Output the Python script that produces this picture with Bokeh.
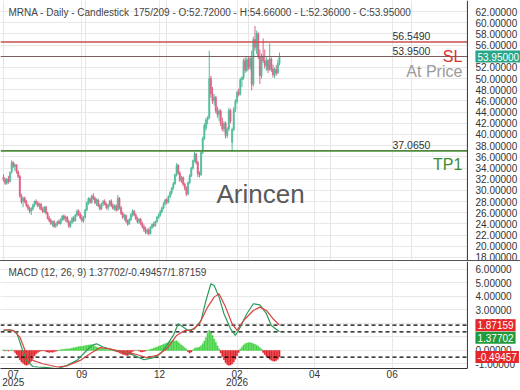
from bokeh.plotting import figure
from bokeh.models import (Range1d, Span, Label, FixedTicker, SingleIntervalTicker,
                          NumeralTickFormatter, ColumnDataSource, Grid, Div, BoxAnnotation)
from bokeh.layouts import column
from bokeh.embed import file_html
from bokeh.resources import INLINE

# ---------------- data ----------------
opens = [32.4, 31.9, 31.3, 32.0, 31.6, 33.3, 35.0, 34.3, 34.5, 33.3,
         32.5, 29.0, 28.0, 28.6, 28.0, 27.3, 26.8, 26.3, 26.7, 27.4,
         28.0, 27.7, 27.2, 27.5, 26.6, 26.2, 27.0, 25.9, 25.0, 24.6,
         24.1, 24.4, 23.6, 24.0, 24.4, 24.1, 24.8, 25.4, 24.9, 25.2,
         24.4, 23.6, 24.3, 25.0, 24.6, 25.6, 26.3, 25.7, 25.1, 24.6,
         25.2, 26.5, 27.8, 28.5, 27.9, 29.0, 28.6, 27.8, 28.3, 27.3,
         26.7, 27.6, 28.0, 27.5, 26.9, 27.4, 28.1, 27.3, 26.8, 27.2,
         26.5, 28.6, 26.9, 25.9, 25.2, 25.5, 24.5, 24.0, 24.8, 25.7,
         26.3, 25.6, 25.0, 24.4, 24.8, 24.1, 23.5, 23.0, 22.5, 22.9,
         22.3, 23.4, 23.9, 23.7, 24.4, 25.2, 25.6, 26.2, 26.9, 27.6,
         28.3, 27.9, 28.9, 29.6, 30.4, 31.2, 32.8, 34.5, 33.1, 31.8,
         32.3, 31.1, 30.4, 29.4, 31.4, 32.6, 34.0, 35.3, 36.5, 35.0,
         33.0, 32.8, 36.8, 39.3, 41.1, 42.6, 43.0, 50.0, 47.3, 46.0,
         46.6, 44.2, 43.6, 44.2, 42.0, 41.0, 42.0, 39.8, 41.0, 44.3,
         38.6, 40.9, 44.5, 45.9, 47.5, 47.2, 49.8, 50.2, 53.2, 51.5,
         53.4, 52.0, 53.6, 49.0, 57.0, 55.6, 58.0, 54.0, 50.5, 54.0,
         53.2, 52.3, 53.2, 51.6, 53.5, 51.7, 50.7, 51.6, 51.0, 52.72]
highs = [32.9, 32.3, 32.2, 32.6, 33.4, 35.4, 35.2, 34.8, 34.7, 33.6,
         32.8, 29.4, 28.9, 28.9, 28.3, 27.6, 27.1, 27.0, 27.6, 28.2,
         28.4, 28.1, 27.8, 27.8, 27.0, 27.2, 27.2, 26.2, 25.4, 25.0,
         24.6, 24.7, 24.2, 24.6, 24.8, 25.0, 25.6, 25.7, 25.5, 25.4,
         24.8, 24.6, 25.3, 25.4, 25.8, 26.6, 26.6, 26.1, 25.6, 25.4,
         26.7, 28.0, 28.8, 28.7, 29.2, 29.5, 28.9, 28.6, 28.5, 27.6,
         27.8, 28.3, 28.4, 27.8, 27.6, 28.3, 28.4, 27.7, 27.5, 27.5,
         29.2, 28.8, 27.2, 26.2, 25.8, 25.7, 24.8, 25.0, 25.9, 26.6,
         26.5, 25.9, 25.3, 25.0, 25.1, 24.4, 23.9, 23.5, 23.2, 23.3,
         23.6, 24.1, 24.4, 24.6, 25.4, 25.9, 26.5, 27.1, 27.9, 28.5,
         28.6, 29.1, 29.9, 30.6, 31.5, 33.0, 34.9, 34.7, 33.4, 32.6,
         32.5, 31.4, 30.7, 31.6, 32.9, 34.2, 35.5, 36.9, 36.7, 35.3,
         33.4, 37.0, 39.6, 42.0, 43.0, 43.3, 55.0, 50.5, 48.5, 47.2,
         46.9, 45.0, 44.6, 44.5, 43.0, 42.4, 42.3, 41.3, 44.8, 44.6,
         41.2, 44.9, 46.3, 47.9, 48.2, 50.1, 50.4, 53.6, 53.8, 53.8,
         53.9, 54.0, 55.0, 57.5, 59.4, 58.6, 58.3, 55.2, 54.5, 57.2,
         55.2, 53.8, 53.5, 56.3, 53.8, 52.5, 52.0, 52.4, 53.4, 54.66]
lows = [31.6, 31.0, 31.0, 31.2, 31.4, 33.0, 34.0, 33.5, 33.0, 32.2,
        28.7, 27.6, 27.0, 27.7, 27.0, 26.4, 25.9, 25.6, 26.4, 27.0,
        27.4, 27.0, 26.6, 26.4, 25.9, 26.0, 25.7, 24.8, 24.3, 23.8,
        23.5, 23.3, 23.3, 23.6, 23.9, 23.9, 24.5, 24.6, 24.4, 24.2,
        23.3, 23.3, 24.0, 24.3, 24.4, 25.3, 25.4, 24.8, 24.3, 24.2,
        25.0, 26.3, 27.4, 27.6, 27.6, 28.3, 27.5, 27.2, 27.0, 26.4,
        26.5, 27.2, 27.3, 26.6, 26.4, 27.1, 27.0, 26.5, 26.4, 26.2,
        26.3, 26.6, 25.6, 24.9, 24.6, 24.2, 23.7, 23.8, 24.5, 25.3,
        25.4, 24.7, 24.1, 24.0, 23.8, 23.2, 22.6, 22.2, 22.1, 22.0,
        22.1, 23.1, 23.4, 23.5, 24.2, 24.9, 25.3, 25.9, 26.6, 27.3,
        27.5, 27.7, 28.6, 29.2, 30.1, 31.0, 32.5, 32.8, 31.5, 31.3,
        30.8, 30.0, 29.0, 29.1, 31.1, 32.4, 33.7, 35.0, 34.6, 32.4,
        32.3, 32.6, 36.5, 39.0, 40.7, 41.8, 42.8, 46.6, 45.5, 45.2,
        43.8, 43.0, 42.4, 41.5, 40.6, 40.4, 39.3, 39.4, 40.6, 42.0,
        36.9, 40.6, 44.0, 45.5, 46.8, 47.0, 48.5, 49.8, 51.0, 51.2,
        51.6, 51.5, 47.9, 48.6, 55.0, 54.4, 53.5, 49.0, 50.0, 52.8,
        51.8, 51.4, 51.0, 51.4, 51.2, 50.2, 50.1, 50.5, 50.8, 52.36]
closes = [31.9, 31.3, 32.0, 31.5, 33.2, 35.0, 34.3, 34.6, 33.3, 32.5,
          29.0, 28.0, 28.6, 28.0, 27.3, 26.8, 26.3, 26.7, 27.4, 28.0,
          27.7, 27.2, 27.5, 26.6, 26.2, 27.0, 25.9, 25.0, 24.6, 24.1,
          24.4, 23.6, 24.0, 24.4, 24.1, 24.8, 25.4, 24.9, 25.2, 24.4,
          23.6, 24.3, 25.0, 24.6, 25.6, 26.3, 25.7, 25.1, 24.6, 25.2,
          26.5, 27.8, 28.5, 27.9, 29.0, 28.6, 27.8, 28.3, 27.3, 26.7,
          27.6, 28.0, 27.5, 26.9, 27.4, 28.1, 27.3, 26.8, 27.2, 26.5,
          28.6, 26.9, 25.9, 25.2, 25.5, 24.5, 24.0, 24.8, 25.7, 26.3,
          25.6, 25.0, 24.4, 24.8, 24.1, 23.5, 23.0, 22.5, 22.9, 22.3,
          23.4, 23.9, 23.7, 24.4, 25.2, 25.6, 26.2, 26.9, 27.6, 28.3,
          27.9, 28.9, 29.6, 30.4, 31.2, 32.8, 34.5, 33.1, 31.8, 32.3,
          31.1, 30.4, 29.4, 31.4, 32.6, 34.0, 35.3, 36.5, 35.0, 33.0,
          32.8, 36.8, 39.3, 41.6, 42.6, 43.0, 50.0, 47.3, 46.0, 46.6,
          44.2, 43.6, 44.2, 42.0, 41.0, 42.0, 39.8, 41.0, 44.3, 42.4,
          40.9, 44.5, 45.9, 47.5, 47.2, 49.8, 50.2, 53.2, 51.5, 53.4,
          52.0, 53.6, 49.0, 57.0, 55.6, 58.0, 54.0, 50.5, 54.0, 53.2,
          52.3, 53.2, 51.6, 53.5, 51.7, 50.7, 51.6, 51.0, 52.7, 53.95]

macd_x = [0, 4, 8, 11, 14, 18, 21, 27, 33, 39, 45, 50, 54, 57, 61, 68, 74, 80, 86, 92,
          96, 100, 104, 107, 110, 113, 117, 121, 124, 127, 129, 132, 135, 139, 142, 145,
          149, 153, 157, 161, 164, 169]
macd_y = [1.48, 1.53, 1.36, 0.25, -0.74, -1.19, -1.23, -1.28, -1.36, -1.11,
          -0.74, -0.12, 0.37, 0.49, 0.25, 0.0, -0.12, -0.37, -0.69, -0.54,
          -0.25, 0.37, 1.11, 1.98, 1.73, 1.48, 1.6, 2.22, 3.7, 4.94,
          4.81, 3.95, 2.72, 1.6, 1.11, 1.73, 2.72, 3.46, 3.38, 2.72, 1.85, 1.37702]
signal_x = [0, 6, 10, 14, 18, 24, 33, 39, 47, 53, 59, 65, 71, 80, 88, 94, 100, 106,
            111, 115, 120, 125, 129, 132, 136, 140, 143, 147, 153, 157, 161, 165, 169]
signal_y = [1.53, 1.48, 0.99, -0.25, -0.74, -0.99, -1.23, -1.14, -0.74, -0.25,
            0.2, 0.12, -0.05, -0.25, -0.54, -0.37, 0.12, 1.11, 1.48, 1.48,
            1.98, 3.21, 3.95, 4.2, 3.21, 1.98, 1.48, 2.22, 2.96, 3.21, 2.96, 2.35, 1.87159]
hist = [0.05, -0.04, 0.03, -0.05, 0.02, 0.04, 0.02,
        -0.15, -0.3, -0.5, -0.7, -0.85, -0.95, -1.05, -1.1, -1.05, -0.95, -0.8, -0.6, -0.4,
        -0.25, -0.15, -0.08, -0.05, -0.03, -0.02,
        -0.1, -0.12, -0.15, -0.12, -0.14, -0.1, -0.06, -0.03,
        0.03, 0.05, 0.07, 0.08, 0.1, 0.12, 0.11, 0.14, 0.17, 0.2, 0.22, 0.25, 0.27, 0.3,
        0.28, 0.32, 0.35, 0.38, 0.4, 0.42, 0.4, 0.36, 0.3, 0.25, 0.2, 0.15,
        0.12, 0.1, 0.08, 0.06, 0.05, 0.03, 0.02, 0.01,
        -0.05, -0.08, -0.12, -0.18, -0.22, -0.28, -0.32, -0.35, -0.37, -0.3, -0.2,
        -0.08, -0.03, 0.02, 0.03, -0.05, -0.1, -0.12, -0.08, -0.04, 0.02, 0.04,
        0.08, 0.12, 0.16, 0.2, 0.25, 0.3, 0.35, 0.4, 0.45, 0.5, 0.55, 0.6, 0.65, 0.7,
        0.75, 0.7, 0.72, 0.6, 0.5, 0.4, 0.3, 0.2, 0.1,
        -0.1, -0.2, -0.12,
        0.05, 0.15, 0.2, 0.2, 0.25, 0.35, 0.5, 0.7, 0.95, 1.25, 1.5, 1.35, 1.1, 0.85,
        0.6, 0.35, 0.12,
        -0.2, -0.45, -0.7, -0.9, -1.05, -1.1, -1.08, -1.0, -0.85, -0.65, -0.4, -0.15,
        0.1, 0.25, 0.4, 0.5, 0.55, 0.57, 0.58, 0.55, 0.5, 0.45, 0.38, 0.3, 0.2, 0.1,
        -0.15, -0.3, -0.45, -0.55, -0.65, -0.72, -0.78, -0.8, -0.75, -0.65, -0.49457]

tick_pos = [6, 48, 95.5, 143, 190.5, 238]
tick_labels = ["07\n2025", "09", "12", "02\n2026", "04", "06"]

sl_level = 56.549
price_level = 53.95
tp1_level = 37.065
macd_last = 1.37702
hist_last = -0.49457
signal_last = 1.87159

header_left = "MRNA - Daily - Candlestick"
header_right = "175/209 - O:52.72000 - H:54.66000 - L:52.36000 - C:53.95000"
macd_title = "MACD (12, 26, 9)    1.37702/-0.49457/1.87159"

# ---------------- layout / styling ----------------
FONT = "Liberation Sans"
UP = "#52bd9e"
DOWN = "#db6585"
GRID = "#e8e8e8"
AXIS = "#333333"
X0, XAX, X1 = -1.84, 284.1, 316.6      # plot start, axis-line position, frame end
BOX_X = 289.0                            # text start of the value boxes
FRAME_W = 520

x_range = Range1d(X0, X1)


def style_axis(ax, size="10px"):
    ax.axis_line_color = AXIS
    ax.axis_line_width = 1
    ax.major_tick_line_color = None
    ax.minor_tick_line_color = None
    ax.major_tick_out = 0
    ax.major_tick_in = 0
    ax.minor_tick_out = 0
    ax.minor_tick_in = 0
    ax.major_label_text_font = FONT
    ax.major_label_text_font_size = size
    ax.major_label_text_color = "#333333"


def inner_right_axis(p, interval):
    ax = p.yaxis[0]
    ax.ticker = SingleIntervalTicker(interval=interval)
    ax.formatter = NumeralTickFormatter(format="0.00000")
    style_axis(ax)
    ax.axis_line_color = None
    ax.major_label_standoff = -45
    # hide grid lines under the label column, draw the axis line
    p.add_layout(BoxAnnotation(left=XAX, fill_color="white", fill_alpha=1.0,
                               line_color=None, level="underlay"))
    p.add_layout(Span(location=XAX, dimension="height", line_color=AXIS, line_width=1))


def value_box(p, y, text, color, y_offset=0):
    p.add_layout(Label(x=BOX_X, y=y, text=text, text_font=FONT, text_font_size="10px",
                       text_color="white", text_baseline="middle", y_offset=y_offset,
                       background_fill_color=color, padding=2))


# ---------------- price panel ----------------
p1 = figure(frame_width=FRAME_W, frame_height=260, x_range=x_range,
            y_range=Range1d(17.46, 63.97), x_axis_location=None,
            y_axis_location="right", output_backend="svg",
            toolbar_location=None, min_border=0)
p1.outline_line_color = None
p1.background_fill_color = "white"
p1.border_fill_color = "white"
p1.ygrid.grid_line_color = GRID
p1.add_layout(Grid(dimension=0, ticker=FixedTicker(ticks=tick_pos[1:]),
                   grid_line_color=GRID))
inner_right_axis(p1, 2)

idx = list(range(len(opens)))
cols = [UP if c >= o else DOWN for o, c in zip(opens, closes)]
src = ColumnDataSource(dict(x=idx, h=highs, l=lows,
                            top=[max(o, c) for o, c in zip(opens, closes)],
                            bot=[min(o, c) for o, c in zip(opens, closes)],
                            color=cols))
p1.segment(x0="x", y0="l", x1="x", y1="h", line_color="color", line_width=1, source=src)
p1.vbar(x="x", width=0.75, top="top", bottom="bot", fill_color="color",
        line_color="color", line_width=0.6, source=src)

p1.segment(x0=[X0], y0=[sl_level], x1=[XAX], y1=[sl_level], line_color="#c8514f", line_width=1.5)
p1.segment(x0=[X0], y0=[price_level], x1=[XAX], y1=[price_level], line_color="#7d5d5d", line_width=1)
p1.segment(x0=[X0], y0=[tp1_level], x1=[XAX], y1=[tp1_level], line_color="#4e8c3c", line_width=1.8)

for lvl, txt in [(sl_level, "56.5490"), (price_level, "53.9500"), (tp1_level, "37.0650")]:
    p1.add_layout(Label(x=238.2, y=lvl, text=txt, text_font=FONT, text_font_size="10.5px",
                        text_color="#333333", text_baseline="bottom", y_offset=2))

p1.add_layout(Label(x=281, y=54.04, text="SL", text_font=FONT, text_font_size="16px",
                    text_color="#d93030", text_align="right", text_baseline="middle"))
p1.add_layout(Label(x=281, y=51.27, text="At Price", text_font=FONT, text_font_size="16px",
                    text_color="#9a9a9a", text_align="right", text_baseline="middle"))
p1.add_layout(Label(x=281, y=34.63, text="TP1", text_font=FONT, text_font_size="16px",
                    text_color="#3d8b2f", text_align="right", text_baseline="middle"))
p1.add_layout(Label(x=157.4, y=29.4, text="Arincen", text_font=FONT, text_font_size="26px",
                    text_color="#5a5a5a", text_align="center", text_baseline="middle"))
p1.add_layout(Label(x=3.0, y=61.8, text=header_left, text_font=FONT, text_font_size="10px",
                    text_color="#444444", text_baseline="middle"))
p1.add_layout(Label(x=79.6, y=61.8, text=header_right, text_font=FONT, text_font_size="10px",
                    text_color="#444444", text_baseline="middle"))
value_box(p1, price_level, "53.95000", "#27a68a")

sep = Div(text="", width=FRAME_W, height=1, margin=0, styles={"background-color": "#555555"})

# ---------------- MACD panel ----------------
p2 = figure(frame_width=FRAME_W, frame_height=107, x_range=x_range,
            y_range=Range1d(-1.34, 6.59), y_axis_location="right",
            output_backend="svg", toolbar_location=None, min_border=0)
p2.outline_line_color = None
p2.background_fill_color = "white"
p2.border_fill_color = "white"
p2.ygrid.grid_line_color = GRID
p2.xgrid.ticker = FixedTicker(ticks=tick_pos[1:])
p2.xgrid.grid_line_color = GRID
inner_right_axis(p2, 1)
xa = p2.xaxis[0]
xa.ticker = FixedTicker(ticks=tick_pos)
xa.major_label_overrides = {pos: lab for pos, lab in zip(tick_pos, tick_labels)}
style_axis(xa, "10px")
xa.bounds = (X0, XAX)
xa.major_label_standoff = 0
xa.major_label_text_line_height = 0.8

hx = list(range(len(hist)))
hcol = ["#46d346" if v >= 0 else "#e0242b" for v in hist]
p2.vbar(x=hx, top=hist, bottom=0, width=0.8, fill_color=hcol, line_color=hcol, line_width=0.4)
for lvl in [signal_last, macd_last, hist_last]:
    p2.segment(x0=[X0], y0=[lvl], x1=[XAX], y1=[lvl], line_color="black",
               line_width=1.2, line_dash="4 3")
p2.line(macd_x, macd_y, line_color="#2a9d5c", line_width=1.2)
p2.line(signal_x, signal_y, line_color="#d64541", line_width=1.2)

p2.add_layout(Label(x=3.0, y=5.78, text=macd_title, text_font=FONT, text_font_size="10px",
                    text_color="#444444", text_baseline="middle"))
value_box(p2, signal_last, "1.87159", "#e5262b")
value_box(p2, macd_last, "1.37702", "#1f9a3c", y_offset=-6)
value_box(p2, hist_last, "-0.49457", "#e5262b")

layout = column(p1, sep, p2, spacing=0)
open("out.html", "w").write(file_html(layout, INLINE))
